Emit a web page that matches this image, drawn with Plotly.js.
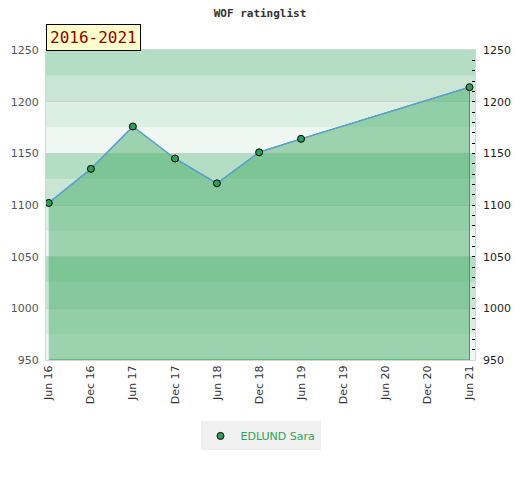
<!DOCTYPE html>
<html>
<head>
<meta charset="utf-8">
<script src="https://cdn.plot.ly/plotly-3.0.1.min.js"></script>
<style>html,body{margin:0;padding:0;background:#fff;}#chart{width:520px;height:480px;}</style>
</head>
<body>
<div id="chart"></div>
<script>
// ---- data ----
const dates = ['2016-06-01','2016-12-01','2017-06-01','2017-12-01','2018-06-01','2018-12-01','2019-06-01','2021-06-01'];
const ratings = [1102, 1135, 1176, 1145, 1121, 1151, 1164, 1214];
const playerName = 'EDLUND Sara';
const periodLabel = '2016-2021';
const chartTitle = 'WOF ratinglist';
const yMin = 950, yMax = 1250;
const bandStep = 25;
const bandColors = ['#eef7f1', '#dcefe3', '#c8e6d3', '#b3dec3']; // repeating from bottom

// ---- build ----
const polyX = dates.concat([dates[dates.length - 1], dates[0]]);
const polyY = ratings.concat([yMin, yMin]);

const fillTrace = {
  x: polyX, y: polyY, type: 'scatter', mode: 'lines',
  fill: 'toself', fillcolor: 'rgba(58,167,95,0.46)',
  line: {color: '#2ea556', width: 1},
  showlegend: false, hoverinfo: 'skip'
};
const lineTrace = {
  x: dates, y: ratings, type: 'scatter', mode: 'lines',
  line: {color: '#5b9fd6', width: 1.5},
  showlegend: false, hoverinfo: 'skip'
};
const markerTrace = {
  x: dates, y: ratings, type: 'scatter', mode: 'markers', name: playerName,
  marker: {color: '#2e9e5a', size: 7, line: {color: '#000', width: 1}}
};
const rightTrace = {
  x: [dates[0]], y: [ratings[0]], yaxis: 'y2', type: 'scatter', mode: 'markers',
  marker: {opacity: 0}, showlegend: false, hoverinfo: 'skip'
};

const shapes = [];
let i = 0;
for (let v = yMin; v < yMax; v += bandStep, i++) {
  shapes.push({type: 'rect', xref: 'paper', yref: 'y', x0: 0, x1: 1, y0: v, y1: v + bandStep,
    fillcolor: bandColors[i % bandColors.length], line: {width: 0}, layer: 'below'});
}

const layout = {
  width: 520, height: 480,
  margin: {l: 46, r: 45, t: 50, b: 120},
  paper_bgcolor: '#ffffff', plot_bgcolor: '#ffffff',
  title: {text: '<b>' + chartTitle + '</b>', x: 0.5, xanchor: 'center', y: 0.973, yanchor: 'middle',
    font: {family: 'DejaVu Sans Mono', size: 11, color: '#333'}},
  xaxis: {
    type: 'date', range: ['2016-05-20', '2021-06-25'],
    tick0: '2016-06-01', dtick: 'M6', tickformat: '%b %y', tickangle: -90,
    showgrid: false, zeroline: false, ticks: '',
    showline: true, linecolor: '#d6d6d6', linewidth: 1, mirror: true,
    tickfont: {family: 'DejaVu Sans', size: 11, color: '#333'}
  },
  yaxis: {
    range: [yMin, yMax], dtick: 50, showgrid: true, gridcolor: 'rgba(200,200,200,0.7)', gridwidth: 1,
    zeroline: false, ticks: '', showline: true, linecolor: '#d6d6d6', mirror: true,
    ticklabelstandoff: 4,
    tickfont: {family: 'DejaVu Sans', size: 11, color: '#555'}
  },
  yaxis2: {
    overlaying: 'y', side: 'right', range: [yMin, yMax], dtick: 50,
    showgrid: false, zeroline: false, ticks: 'inside', ticklen: 3, tickcolor: '#000',
    minor: {dtick: 10, ticks: 'inside', ticklen: 3, tickcolor: '#000', showgrid: false},
    ticklabelstandoff: 7,
    tickfont: {family: 'DejaVu Sans', size: 11, color: '#222'}
  },
  showlegend: true,
  legend: {orientation: 'h', x: 0.5, xanchor: 'center', y: -0.245, yanchor: 'middle',
    itemwidth: 30,
    bgcolor: '#f0f0f0', font: {family: 'DejaVu Sans', size: 11, color: '#2ea556'}},
  annotations: [{
    text: periodLabel, xref: 'paper', yref: 'paper', x: 0, y: 1, xanchor: 'left', yanchor: 'bottom',
    yshift: -1,
    showarrow: false, bgcolor: '#ffffcc', bordercolor: '#000', borderwidth: 1, borderpad: 3,
    font: {family: 'DejaVu Sans Mono', size: 16, color: '#8b0000'}
  }],
  shapes: shapes
};

Plotly.newPlot('chart', [fillTrace, lineTrace, markerTrace, rightTrace], layout, {displayModeBar: false, staticPlot: true});
</script>
</body>
</html>
